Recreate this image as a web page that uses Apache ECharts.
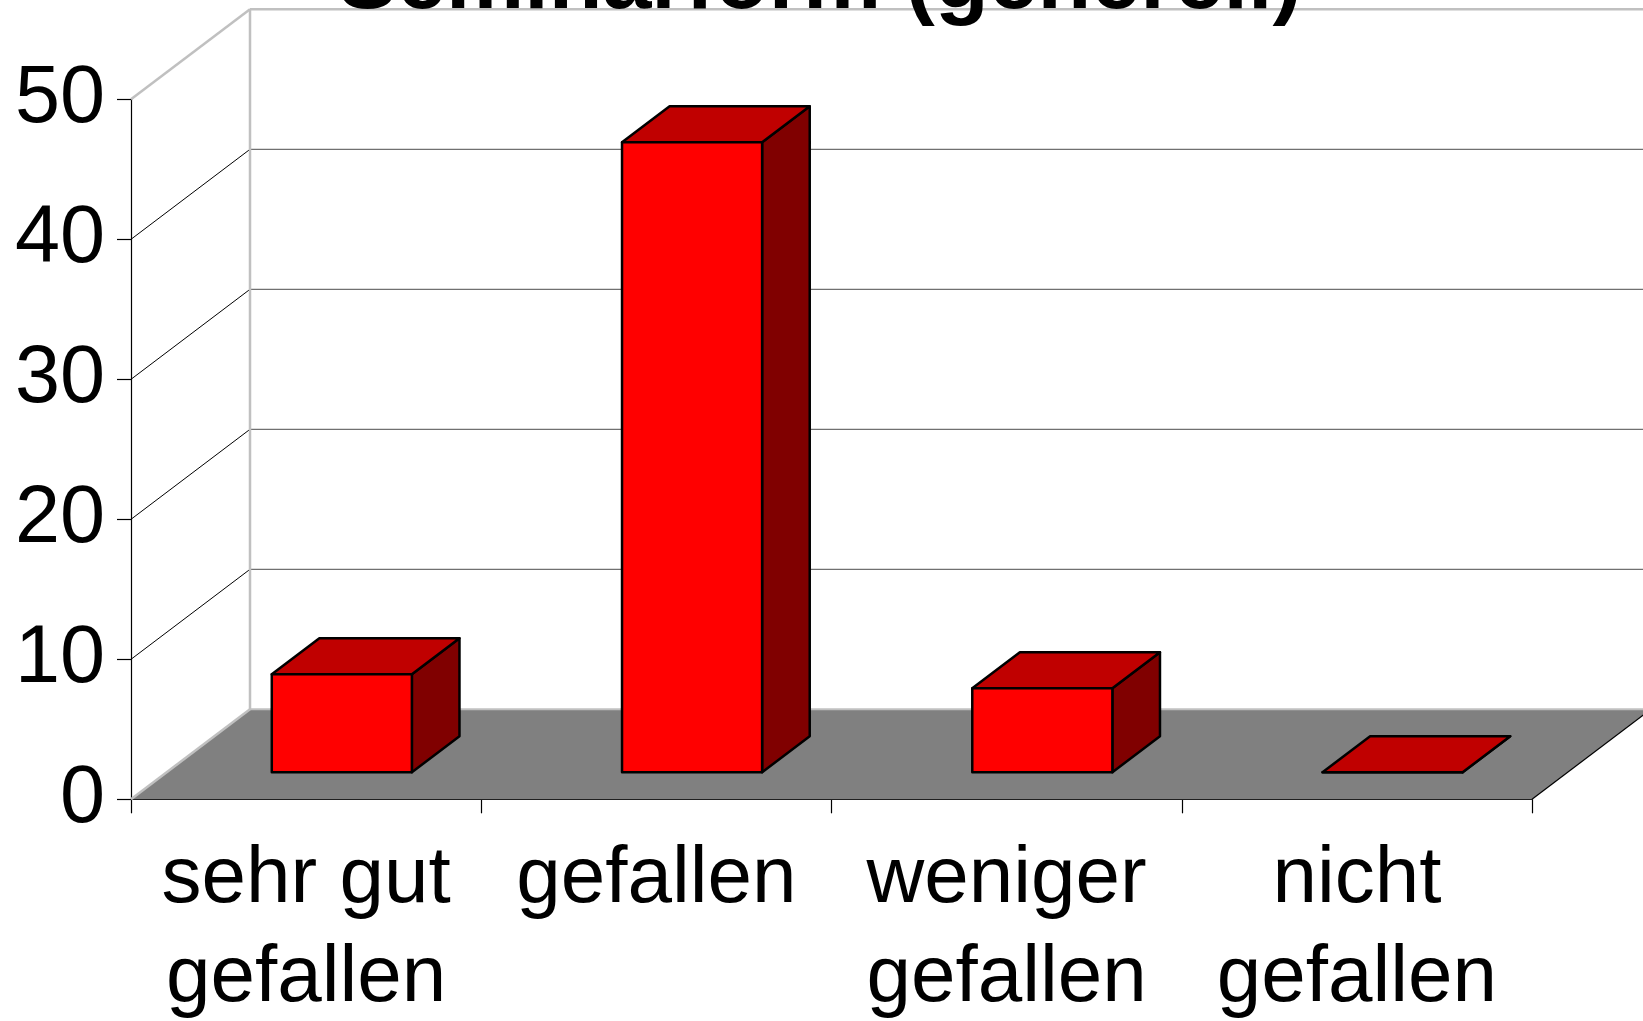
<!DOCTYPE html>
<html>
<head>
<meta charset="utf-8">
<title>Seminarform (generell)</title>
<script src="https://cdn.jsdelivr.net/npm/echarts@6/dist/echarts.min.js"></script>
<style>
  html, body { margin: 0; padding: 0; background: #fff; }
  #chart { width: 1643px; height: 1021px; }
</style>
</head>
<body>
<div id="chart"></div>
<script>
// Seminarform (generell) — 3D-Säulen im Excel-Stil

const titleText = "Seminarform (generell)";
const categories = ["sehr gut\ngefallen", "gefallen", "weniger\ngefallen", "nicht\ngefallen"];
const counts = [7, 45, 6, 0];
const valueMin = 0;
const valueMax = 50;
const valueStep = 10;

const FONT = '"Liberation Sans", Arial, sans-serif';
// Tiefe der Bodenplatte in Pixel (Schrägprojektion)
const DEPTH_X = 119;
const DEPTH_Y = -90;
const BAR_INSET = 0.3;
const BAR_DEPTH = 0.4;
const BAR_WIDTH = 0.4;

function renderFrame(params, api) {
  const cs = params.coordSys;
  const x0 = cs.x;
  const x1 = cs.x + cs.width;
  const yOf = (v) => api.coord([0, v])[1];
  const y0 = yOf(valueMin);
  const yTop = yOf(valueMax);
  const bx0 = x0 + DEPTH_X;
  const bx1 = x1 + DEPTH_X;
  const children = [];

  // Boden
  children.push({
    type: "polygon",
    shape: { points: [[x0, y0], [x1, y0], [bx1, y0 + DEPTH_Y], [bx0, y0 + DEPTH_Y]] },
    style: { fill: "#808080", stroke: null },
  });

  // Gitterlinien auf Seiten- und Rückwand
  for (let v = valueMin + valueStep; v < valueMax; v += valueStep) {
    const y = yOf(v);
    children.push({
      type: "line",
      shape: { x1: x0, y1: y, x2: bx0, y2: y + DEPTH_Y },
      style: { stroke: "#000", lineWidth: 1 },
    });
    children.push({
      type: "line",
      shape: { x1: bx0, y1: y + DEPTH_Y, x2: bx1, y2: y + DEPTH_Y },
      style: { stroke: "#707070", lineWidth: 1.2 },
    });
  }

  const wallEdge = { stroke: "#c0c0c0", lineWidth: 2.5 };
  children.push({ type: "line", shape: { x1: bx0, y1: yTop + DEPTH_Y, x2: bx0, y2: y0 + DEPTH_Y }, style: wallEdge });
  children.push({ type: "line", shape: { x1: bx0, y1: yTop + DEPTH_Y, x2: bx1, y2: yTop + DEPTH_Y }, style: wallEdge });
  children.push({ type: "line", shape: { x1: x0, y1: yTop, x2: bx0, y2: yTop + DEPTH_Y }, style: wallEdge });
  children.push({ type: "line", shape: { x1: x0, y1: y0, x2: bx0, y2: y0 + DEPTH_Y }, style: wallEdge });
  children.push({ type: "line", shape: { x1: bx0, y1: y0 + DEPTH_Y, x2: bx1, y2: y0 + DEPTH_Y }, style: { stroke: "#c0c0c0", lineWidth: 2 } });
  children.push({ type: "line", shape: { x1: x1, y1: y0, x2: bx1, y2: y0 + DEPTH_Y }, style: { stroke: "#000", lineWidth: 1.2 } });

  return { type: "group", children };
}

function renderBar(params, api) {
  const idx = api.value(0);
  const top = api.coord([idx, api.value(1)]);
  const base = api.coord([idx, valueMin]);
  const band = api.size([1, 0])[0];
  const w = band * BAR_WIDTH;
  const ox = DEPTH_X * BAR_INSET;
  const oy = DEPTH_Y * BAR_INSET;
  const dx = DEPTH_X * BAR_DEPTH;
  const dy = DEPTH_Y * BAR_DEPTH;
  const left = top[0] - w / 2 + ox;
  const right = left + w;
  const yT = top[1] + oy;
  const yB = base[1] + oy;
  const edge = { stroke: "#000", lineWidth: 2.5, lineJoin: "round" };

  return {
    type: "group",
    children: [
      {
        type: "polygon",
        shape: { points: [[right, yT], [right + dx, yT + dy], [right + dx, yB + dy], [right, yB]] },
        style: { fill: "#800000", ...edge },
      },
      {
        type: "polygon",
        shape: { points: [[left, yT], [left + dx, yT + dy], [right + dx, yT + dy], [right, yT]] },
        style: { fill: "#c00000", ...edge },
      },
      {
        type: "rect",
        shape: { x: left, y: yT, width: w, height: yB - yT },
        style: { fill: "#ff0000", ...edge },
      },
    ],
  };
}

const chart = echarts.init(document.getElementById("chart"));

chart.setOption({
  backgroundColor: "#ffffff",
  animation: false,
  graphic: [
    {
      type: "text",
      x: 820,
      y: -16,
      z: 10,
      style: {
        text: titleText,
        fontSize: 88,
        fontWeight: "bold",
        fontFamily: FONT,
        fill: "#000",
        align: "center",
        verticalAlign: "middle",
      },
    },
  ],
  grid: {
    left: 131,
    right: 111,
    top: 99.3,
    bottom: 221.7,
    outerBoundsMode: "none",
    containLabel: false,
  },
  xAxis: {
    type: "category",
    data: categories,
    boundaryGap: true,
    axisLine: { show: true, lineStyle: { color: "#000", width: 1.2 } },
    axisTick: { show: true, length: 14, lineStyle: { color: "#000", width: 1.2 } },
    axisLabel: {
      interval: 0,
      margin: 31,
      fontSize: 80,
      lineHeight: 99,
      color: "#000",
      fontFamily: FONT,
    },
    splitLine: { show: false },
  },
  yAxis: {
    type: "value",
    min: valueMin,
    max: valueMax,
    interval: valueStep,
    axisLine: { show: true, lineStyle: { color: "#000", width: 1.2 } },
    axisTick: { show: true, length: 14, lineStyle: { color: "#000", width: 1.2 } },
    axisLabel: {
      margin: 26,
      fontSize: 81,
      color: "#000",
      fontFamily: FONT,
      padding: [10, 0, 0, 0],
    },
    splitLine: { show: false },
  },
  series: [
    {
      type: "custom",
      name: "frame",
      z: 1,
      clip: false,
      silent: true,
      renderItem: renderFrame,
      data: [[0, valueMin]],
      encode: { x: 0, y: 1 },
    },
    {
      type: "custom",
      name: "Anzahl",
      z: 3,
      clip: false,
      renderItem: renderBar,
      data: counts.map((v, i) => [i, v]),
      encode: { x: 0, y: 1 },
    },
  ],
});
</script>
</body>
</html>
